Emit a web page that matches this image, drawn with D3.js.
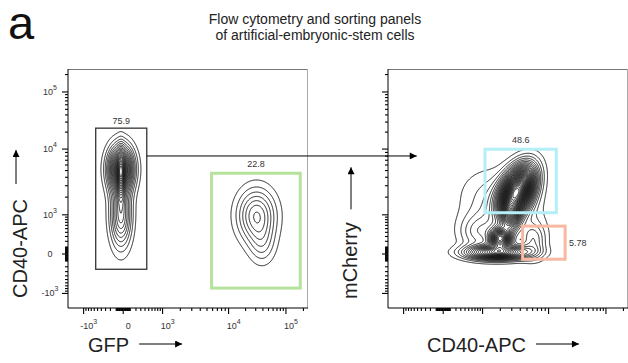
<!DOCTYPE html>
<html><head><meta charset="utf-8">
<script src="https://cdn.jsdelivr.net/npm/d3@7"></script>
<style>body{margin:0;background:#fff}svg{display:block;font-family:"Liberation Sans",Arial,Helvetica,sans-serif}</style>
</head><body>
<svg id="chart" width="628" height="363"></svg>
<script>
// ---------------- data ----------------
const panelLetter = "a";
const titleLines = ["Flow cytometry and sorting panels", "of artificial-embryonic-stem cells"];
const xAxisLabels = ["GFP", "CD40-APC"];
const yAxisLabels = ["CD40-APC", "mCherry"];

// biexponential (logicle-like) axis: anchor values and where they sit along the axis
const axisStops = [-1000, 0, 1000, 10000, 100000];
const axisStopFractions = [0.063, 0.228, 0.392, 0.667, 0.906];
const majorTickValues = [-1000, 0, 1000, 10000, 100000];
const tickLabelBase = ["-10", "0", "10", "10", "10"];
const tickLabelExp = ["3", "", "3", "4", "5"];
const minorDecades = [10, 100, 1000, 10000, 100000];
const negativeMinorDecades = [10, 100];

// populations: [x value, y value, spread u, spread v (axis fraction), angle (deg), weight]
const leftPopulations = [
  [-30, 5300, 0.035, 0.063, 0, 1.0],
  [-30, 970, 0.03, 0.09, 0, 0.5],
  [-30, 4200, 0.01, 0.07, 0, 0.35],
  [31000, 970, 0.054, 0.075, 0, 0.42],
  [39000, 125, 0.0375, 0.058, 0, 0.15]
];
const rightPopulations = [
  [3600, 2500, 0.07, 0.04, -65, 1.0],
  [2000, 256, 0.028, 0.028, 0, 0.6],
  [1800, 20, 0.085, 0.02, 0, 0.5],
  [830, 400, 0.055, 0.05, 0, 0.12],
  [6200, 220, 0.035, 0.05, 0, 0.13],
  [2900, 970, 0.025, 0.045, 0, 0.3],
  [2000, 1460, 0.09, 0.11, -60, 0.1]
];
const contourLevelCounts = [23, 36];

// gates
const gatePanel = [0, 0, 1, 1];
const gateX0 = [-540, 5900, 1130, 4400];
const gateX1 = [460, 180000, 14000, 20000];
const gateY0 = [-260, -800, 1070, -80];
const gateY1 = [23000, 4500, 9800, 560];
const gatePercent = ["75.9", "22.8", "48.6", "5.78"];
const gateColors = ["#333333", "#b6e29c", "#b4eef7", "#f8b9a2"];
const gateWidths = [1.3, 3, 3, 3];
const gateLabelPos = ["top", "top", "top", "right"];

// link arrow from the CD40+ gate into the second panel
const linkY = 7900, linkXEnd = -510;

// ---------------- layout ----------------
const svg = d3.select("#chart");
const W = 240, H = 239, panelTop = 69;
const panelX = [68, 388];
const font = '"Liberation Sans",Arial,Helvetica,sans-serif';

svg.append("defs").append("marker").attr("id", "ah").attr("viewBox", "0 0 10 10")
  .attr("refX", 10).attr("refY", 5).attr("markerWidth", 9).attr("markerHeight", 7)
  .attr("markerUnits", "userSpaceOnUse").attr("orient", "auto")
  .append("path").attr("d", "M0,0L10,5L0,10z").attr("fill", "#000");

svg.append("text").attr("x", 8).attr("y", 39).attr("font-size", 47).attr("fill", "#111").text(panelLetter);
titleLines.forEach((t, i) => svg.append("text").attr("x", 315).attr("y", 24 + i * 16)
  .attr("text-anchor", "middle").attr("font-size", 14).attr("fill", "#222").text(t));

function makeScale(r0, r1) {
  return d3.scaleSymlog().constant(400).domain(axisStops)
    .range(axisStopFractions.map(f => r0 + f * (r1 - r0)));
}
const minorTicks = [];
minorDecades.forEach(d => { for (let m = 1; m <= 9; m++) { if (m * d <= 200000 && !majorTickValues.includes(m * d)) minorTicks.push(m * d); } });
negativeMinorDecades.forEach(d => { for (let m = 1; m <= 9; m++) minorTicks.push(-m * d); });

const scales = [];
panelX.forEach((x0, p) => {
  const xs = makeScale(0, W), ys = makeScale(H, 0);
  scales.push({xs, ys, x0});
  const g = svg.append("g").attr("transform", `translate(${x0},${panelTop})`);
  g.append("clipPath").attr("id", "clip" + p).append("rect").attr("width", W).attr("height", H);

  // density grid from populations, then contours
  const pops = (p === 0 ? leftPopulations : rightPopulations).map(c => {
    const a = c[4] * Math.PI / 180;
    return {cx: xs(c[0]), cy: ys(c[1]), su: c[2] * W, sv: c[3] * W, co: Math.cos(a), si: Math.sin(a), w: c[5]};
  });
  const vals = new Float64Array(W * H);
  for (let j = 0; j < H; j++) for (let i = 0; i < W; i++) {
    let s = 0;
    for (const c of pops) {
      const dx = i - c.cx, dy = j - c.cy;
      const u = dx * c.co + dy * c.si, v = -dx * c.si + dy * c.co;
      s += c.w * Math.exp(-0.5 * (u * u / (c.su * c.su) + v * v / (c.sv * c.sv)));
    }
    vals[j * W + i] = s;
  }
  const mx = d3.max(vals), N = contourLevelCounts[p];
  const contours = d3.contours().size([W, H]).thresholds(d3.range(1, N).map(k => k * mx / N))(vals);
  g.append("g").attr("clip-path", `url(#clip${p})`).selectAll("path").data(contours).join("path")
    .attr("d", d3.geoPath()).attr("fill", "none").attr("stroke", "#000").attr("stroke-width", 0.85);

  // frame
  g.append("line").attr("x1", 0).attr("x2", W).attr("y1", 0.5).attr("y2", 0.5).attr("stroke", "#777");
  g.append("line").attr("x1", W - 0.5).attr("x2", W - 0.5).attr("y1", 0).attr("y2", H).attr("stroke", "#aaa");
  g.append("line").attr("x1", 0).attr("x2", 0).attr("y1", 0).attr("y2", H).attr("stroke", "#000");
  g.append("line").attr("x1", 0).attr("x2", W).attr("y1", H).attr("y2", H).attr("stroke", "#000");

  // axes
  const ax = [
    [d3.axisBottom(xs), `translate(0,${H})`],
    [d3.axisLeft(ys), "translate(0,0)"]
  ];
  ax.forEach(([a, tr], k) => {
    const gm = g.append("g").attr("transform", tr);
    gm.call(a.tickValues(minorTicks.filter(v => (k === 0 ? xs(v) : H - ys(v)) <= W)).tickSize(3).tickSizeOuter(0).tickFormat(""));
    gm.select(".domain").remove();
    const gM = g.append("g").attr("transform", tr);
    gM.call(a.tickValues(majorTickValues).tickSize(6).tickSizeOuter(0).tickFormat(""));
    gM.select(".domain").remove();
    g.selectAll(".tick line").attr("stroke", "#000").attr("stroke-width", 1.1);
    if (p === 0) {
      gM.selectAll(".tick").each(function (d, i) {
        const t = d3.select(this).append("text").attr("fill", "#333").attr("font-size", 9)
          .attr("font-family", font);
        if (k === 0) t.attr("x", 5).attr("y", 21).attr("text-anchor", "middle");
        else t.attr("x", -18).attr("y", 3).attr("text-anchor", "middle");
        t.append("tspan").text(tickLabelBase[i]);
        if (tickLabelExp[i]) t.append("tspan").attr("dy", -5).attr("font-size", 7).text(tickLabelExp[i]);
      });
    }
  });
});

// gates
gatePanel.forEach((p, i) => {
  const {xs, ys, x0} = scales[p];
  const gx = x0 + xs(gateX0[i]), gx1 = x0 + xs(gateX1[i]);
  const gy = panelTop + ys(gateY1[i]), gy1 = panelTop + ys(gateY0[i]);
  svg.append("rect").attr("x", gx).attr("y", gy).attr("width", gx1 - gx).attr("height", gy1 - gy)
    .attr("fill", "none").attr("stroke", gateColors[i]).attr("stroke-width", gateWidths[i]);
  const t = svg.append("text").attr("font-size", 9).attr("fill", "#333").text(gatePercent[i]);
  if (gateLabelPos[i] === "top") t.attr("x", (gx + gx1) / 2).attr("y", gy - 3 - gateWidths[i]).attr("text-anchor", "middle");
  else t.attr("x", gx1 + 4).attr("y", (gy + gy1) / 2 + 3);
});

// link arrow
{
  const s0 = scales[0], s1 = scales[1];
  const y = panelTop + s0.ys(linkY);
  svg.append("line").attr("x1", s0.x0 + s0.xs(gateX1[0])).attr("x2", s1.x0 + s1.xs(linkXEnd))
    .attr("y1", y).attr("y2", y).attr("stroke", "#000").attr("stroke-width", 1).attr("marker-end", "url(#ah)");
}

// axis titles with arrows
const yArrowX = [16, 351], yArrowGap = [15, 13], yArrowLen = [34, 42];
panelX.forEach((x0, p) => {
  const tx = svg.append("text").attr("x", x0 + (p === 0 ? 20 : 39)).attr("y", 352).attr("font-size", 20)
    .attr("fill", "#222").text(xAxisLabels[p]);
  const wx = tx.node().getComputedTextLength();
  const ax0 = x0 + (p === 0 ? 20 : 39) + wx + 10;
  svg.append("line").attr("x1", ax0).attr("x2", ax0 + 43).attr("y1", 344).attr("y2", 344)
    .attr("stroke", "#000").attr("marker-end", "url(#ah)");

  const yx = p === 0 ? 27 : 357, yBottom = p === 0 ? 298 : 299;
  const ty = svg.append("text").attr("transform", `translate(${yx},${yBottom}) rotate(-90)`)
    .attr("font-size", 20).attr("fill", "#222").text(yAxisLabels[p]);
  const wy = ty.node().getComputedTextLength();
  const ab = yBottom - wy - yArrowGap[p];
  svg.append("line").attr("x1", yArrowX[p]).attr("x2", yArrowX[p]).attr("y1", ab).attr("y2", ab - yArrowLen[p])
    .attr("stroke", "#000").attr("marker-end", "url(#ah)");
});
</script>
</body></html>
